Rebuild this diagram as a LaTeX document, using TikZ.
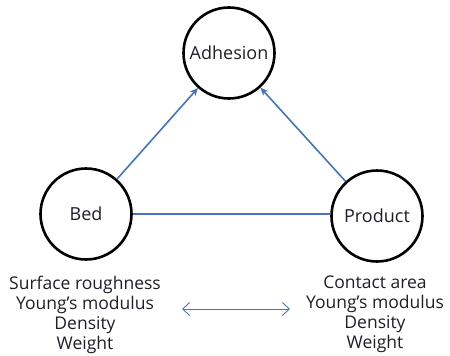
\documentclass[tikz,border=0pt]{standalone}
\usepackage{fontspec}
\setmainfont{Open Sans}
\usetikzlibrary{arrows.meta}
\definecolor{lineblue}{RGB}{68,114,196}
\definecolor{txt}{RGB}{30,30,40}
\begin{document}
\begin{tikzpicture}[x=1pt,y=-1pt,
  ent/.style={circle,draw=black,line width=2.6pt,minimum size=91pt,inner sep=0pt,text=txt,font=\fontsize{18}{20}\selectfont},
  link/.style={draw=lineblue,line width=1.6pt},
  props/.style={align=center,text=txt,font=\fontsize{17.5}{20}\selectfont,inner sep=0pt}]
\useasboundingbox (0,0) rectangle (450,356);
\node[ent] (adh) at (229,53) {Adhesion};
\node[ent] (bed) at (86,214) {Bed};
\node[ent] (prod) at (377,216) {Product};
\draw[link,-{Stealth[length=8pt,width=7pt]}] (bed) -- (adh);
\draw[link,-{Stealth[length=8pt,width=7pt]}] (prod) -- (adh);
\draw[link] (bed.east) -- (bed.east -| prod.west);
\node[props,anchor=north] (bp) at (85,276) {Surface roughness\\Young's modulus\\Density\\Weight};
\node[props,anchor=north] (pp) at (375,276) {Contact area\\Young's modulus\\Density\\Weight};
\coordinate (al) at (182,309);
\coordinate (ar) at (290,309);
\draw[draw=lineblue,line width=0.9pt,{Straight Barb[length=7pt,width=13pt]}-{Straight Barb[length=7pt,width=13pt]}] (al) -- (ar);
\end{tikzpicture}
\end{document}
